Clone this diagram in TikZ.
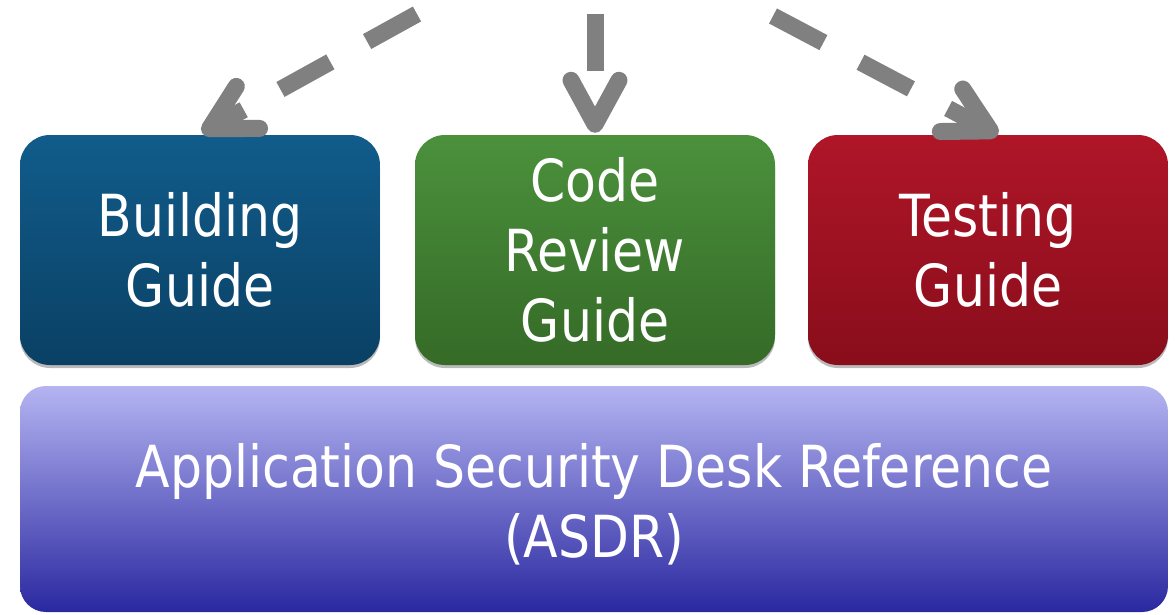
\documentclass[tikz,border=0pt]{standalone}
\usepackage{fontspec}
\setmainfont{DejaVu Sans}[FakeStretch=0.87]
\usetikzlibrary{arrows.meta,shadows}
\definecolor{bluetop}{HTML}{115C8B}
\definecolor{bluebot}{HTML}{0A4064}
\definecolor{greentop}{HTML}{4B913C}
\definecolor{greenbot}{HTML}{356A27}
\definecolor{redtop}{HTML}{AF1628}
\definecolor{redbot}{HTML}{890D1B}
\definecolor{asdrtop}{HTML}{B4B4F2}
\definecolor{asdrmid}{HTML}{9090DA}
\definecolor{asdrbot}{HTML}{2A28A0}
\definecolor{arrowgray}{HTML}{808080}
\begin{document}
\begin{tikzpicture}[x=1pt,y=-1pt,
  guide/.style={rounded corners=30pt, minimum width=360pt, minimum height=230pt,
    inner sep=0pt, align=center, text=white, font=\fontsize{58}{70}\selectfont,
    drop shadow={shadow xshift=0pt, shadow yshift=-3pt, opacity=0.45, fill=black!60}},
  asdr/.style={rounded corners=26pt, minimum width=1148pt, minimum height=226pt,
    inner sep=0pt, align=center, text=white,
    top color=asdrtop, middle color=asdrmid, bottom color=asdrbot},
  flow/.style={draw=arrowgray, line width=17pt, dash pattern=on 57pt off 42pt,
    -{Straight Barb[length=44pt,width=48pt,round]}}]
\useasboundingbox (0,0) rectangle (1176,614);
\node[guide, top color=bluetop, bottom color=bluebot] (build) at (200,250) {Building\\Guide};
\node[guide, top color=greentop, bottom color=greenbot] (code) at (595,250) {Code\\Review\\Guide};
\node[guide, top color=redtop, bottom color=redbot] (test) at (988,250) {Testing\\Guide};
\node[asdr] (ref) at (594,499) {};
\node[align=center, text=white, font=\fontsize{58}{70}\selectfont, inner sep=0pt]
  (reftext) at ([yshift=-5pt]ref.center) {Application Security Desk Reference\\(ASDR)};
\coordinate (s1) at (417,14);
\coordinate (s2) at (595,14);
\coordinate (s3) at (773,16);
\draw[flow] (s1) -- ([xshift=2pt,yshift=2pt]build.north);
\draw[flow] (s2) -- ([yshift=2pt]code.north);
\draw[flow] (s3) -- ([xshift=10pt]test.north);
\end{tikzpicture}
\end{document}
